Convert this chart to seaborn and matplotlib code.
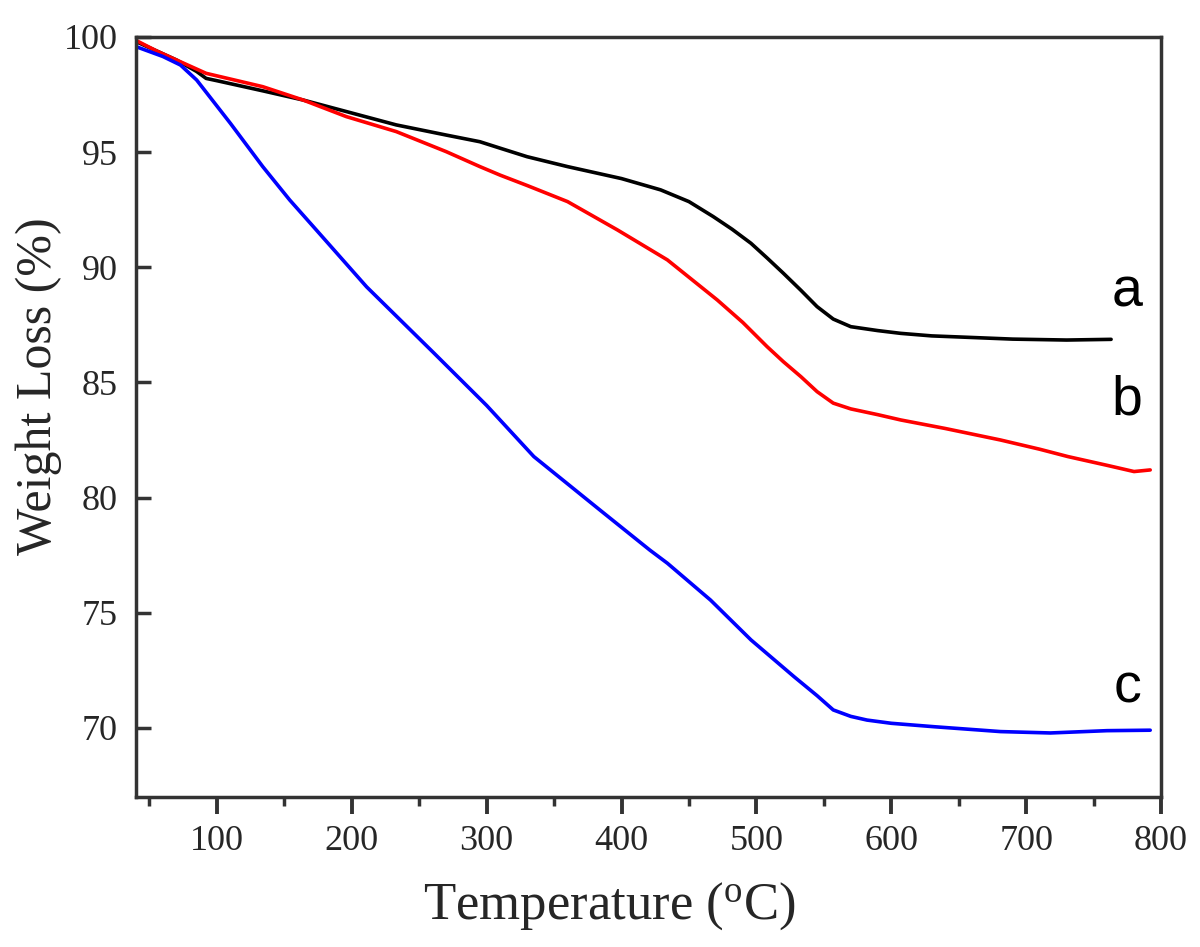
import pandas as pd
import matplotlib
matplotlib.use("Agg")
import matplotlib.pyplot as plt
from matplotlib.ticker import MultipleLocator
import seaborn as sns

# TGA curves
temp_a = [40, 55, 70, 85, 92, 100, 134, 164, 196, 233, 270, 295, 310, 330, 360, 400, 429,
          450, 468, 482, 496, 508, 520, 533, 545, 557, 570, 590, 607, 630, 656, 690, 730, 763]
weight_a = [99.8, 99.4, 99.0, 98.5, 98.2, 98.1, 97.66, 97.26, 96.76, 96.18, 95.74, 95.45, 95.17,
            94.8, 94.37, 93.85, 93.36, 92.85, 92.2, 91.65, 91.04, 90.4, 89.74, 89.0, 88.29,
            87.75, 87.42, 87.25, 87.13, 87.02, 86.96, 86.88, 86.84, 86.87]

temp_b = [40, 55, 70, 92, 134, 164, 196, 233, 270, 295, 310, 330, 360, 397, 434, 471, 490, 508,
          520, 533, 545, 557, 570, 590, 607, 640, 681, 710, 731, 760, 780, 792]
weight_b = [99.85, 99.4, 99.0, 98.42, 97.84, 97.26, 96.54, 95.89, 95.02, 94.37, 94.0, 93.55,
            92.85, 91.62, 90.32, 88.58, 87.6, 86.55, 85.9, 85.25, 84.6, 84.1, 83.85, 83.6,
            83.37, 83.0, 82.5, 82.1, 81.78, 81.4, 81.13, 81.2]

temp_c = [40, 60, 73, 85, 110, 134, 154, 174, 211, 261, 300, 335, 384, 421, 434, 466, 496, 528,
          545, 557, 570, 582, 600, 632, 681, 718, 760, 792]
weight_c = [99.58, 99.15, 98.78, 98.13, 96.25, 94.37, 92.92, 91.6, 89.15, 86.27, 84.0, 81.78,
            79.46, 77.72, 77.15, 75.55, 73.82, 72.22, 71.4, 70.78, 70.5, 70.34, 70.2, 70.05,
            69.84, 69.78, 69.88, 69.9]

labels = ["a", "b", "c"]
colors = {"a": "#000000", "b": "#ff0000", "c": "#0000ff"}
label_pos = {"a": 88.9, "b": 84.2, "c": 71.7}

df = pd.concat([
    pd.DataFrame({"Temperature": temp_a, "Weight": weight_a, "sample": "a"}),
    pd.DataFrame({"Temperature": temp_b, "Weight": weight_b, "sample": "b"}),
    pd.DataFrame({"Temperature": temp_c, "Weight": weight_c, "sample": "c"}),
])

sns.set_style("ticks")
plt.rcParams["font.family"] = ["Liberation Serif", "DejaVu Serif"]

fig = plt.figure(figsize=(12, 9.47), dpi=100)
ax = fig.add_axes([0.1133, 0.1584, 0.8542, 0.8026])

sns.lineplot(data=df, x="Temperature", y="Weight", hue="sample", palette=colors,
             estimator=None, linewidth=2.6, legend=False, ax=ax)

for s in labels:
    ax.text(775, label_pos[s], s, fontsize=40, family="Liberation Sans",
            ha="center", va="center", color="black")

ax.set_xlim(40, 800)
ax.set_ylim(67, 100)
ax.xaxis.set_major_locator(MultipleLocator(100))
ax.xaxis.set_minor_locator(MultipleLocator(50))
ax.yaxis.set_major_locator(MultipleLocator(5))

for sp in ax.spines.values():
    sp.set_visible(True)
    sp.set_linewidth(2.5)
    sp.set_color("#333333")

ax.tick_params(axis="x", which="major", direction="out", length=12, width=2.8,
               color="#333333", labelsize=26, pad=8)
ax.tick_params(axis="x", which="minor", direction="out", length=6.5, width=2.5,
               color="#333333")
ax.tick_params(axis="y", which="major", direction="in", length=11, width=2.5,
               color="#333333", labelsize=26, pad=13)

ax.set_xlabel(r"Temperature ($\mathregular{^o}$C)", fontsize=38)
ax.set_ylabel("Weight Loss (%)", fontsize=36)
ax.xaxis.set_label_coords(0.462, -0.11)
ax.yaxis.set_label_coords(-0.072, 0.54)

fig.savefig("out.png", dpi=100, facecolor="white")
